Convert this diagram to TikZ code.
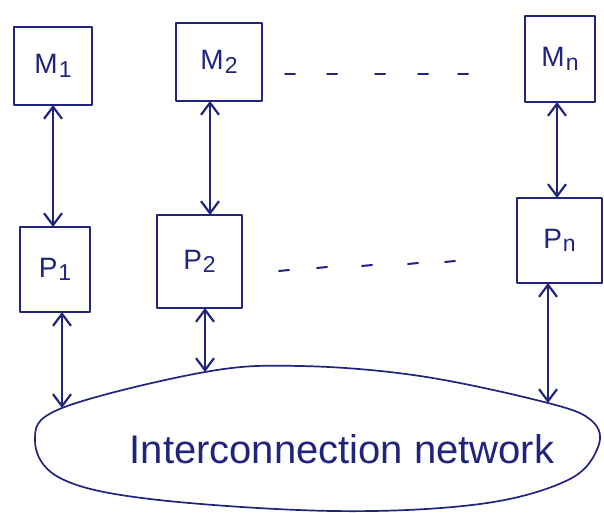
\documentclass[tikz,border=0pt]{standalone}
\usepackage{fontspec}
\setmainfont{Liberation Sans}
\usetikzlibrary{arrows.meta,calc}
\definecolor{ink}{RGB}{32,36,125}
% letter with a slightly lowered index, as written by hand
\newcommand\unitlbl[2]{#1\kern1pt\raisebox{-0.25ex}{\fontsize{23}{23}\selectfont #2}}
\tikzset{
  pen/.style={draw=ink, line width=1.7pt, line cap=round, line join=round},
  unitbox/.style={pen, rectangle, inner sep=0pt, outer sep=0pt, text=ink,
                  font=\fontsize{28}{28}\selectfont},
  barb/.tip={Straight Barb[length=12pt,width=18pt,line width=2.2pt]},
  link/.style={pen, line width=1.8pt, barb-barb},
  dash mark/.style={pen, line width=2pt},
}
\begin{document}
\begin{tikzpicture}[x=1pt,y=-1pt]
\useasboundingbox (0,0) rectangle (604,513);

% memory modules
\node[unitbox, minimum width=78pt, minimum height=78pt] (M1) at (53,66) {\unitlbl{M}{1}};
\node[unitbox, minimum width=86pt, minimum height=78pt] (M2) at (219,62) {\unitlbl{M}{2}};
\node[unitbox, minimum width=70pt, minimum height=86pt] (Mn) at (560,59) {\unitlbl{M}{n}};

% processors
\node[unitbox, minimum width=70pt, minimum height=85pt] (P1) at (55,269.5) {\unitlbl{P}{1}};
\node[unitbox, minimum width=85pt, minimum height=93pt] (P2) at (199.5,261.5) {\unitlbl{P}{2}};
\node[unitbox, minimum width=85pt, minimum height=85pt] (Pn) at (559.5,240.5) {\unitlbl{P}{n}};

% the interconnection network
\draw[pen] plot[smooth cycle, tension=0.6] coordinates {
  (35,440) (60,478) (150,499) (333,511) (480,504) (568,480) (598,447)
  (592,421) (548,403) (420,376) (300,366) (205,372) (62,408)};
\coordinate (e1) at (62,408);
\coordinate (e2) at (205,372);
\coordinate (en) at (548,403);
\node[text=ink, font=\fontsize{40}{40}\selectfont, anchor=base] (net) at (342,463)
  {Interconnection network};

% memory <-> processor
\draw[link] (M1.south) -- (M1.south |- P1.north);
\draw[link] ([xshift=-9pt]M2.south) -- ([xshift=-9pt]M2.south |- P2.north);
\draw[link] ([xshift=-3pt]Mn.south) -- ([xshift=-3pt]Mn.south |- Pn.north);

% processor <-> network
\draw[link] (P1.south -| e1) -- (e1);
\draw[link] (P2.south -| e2) -- (e2);
\draw[link] (Pn.south -| en) -- (en);

% continuation marks between the columns
\foreach \x in {290,332,380,423,463}
  \draw[dash mark] (\x-5,74) -- (\x+5,74);
\foreach \x/\y in {284/271,322/268,367/266,413/264,450/262}
  \draw[dash mark] (\x-5,\y) -- (\x+5,\y-1);
\end{tikzpicture}
\end{document}
